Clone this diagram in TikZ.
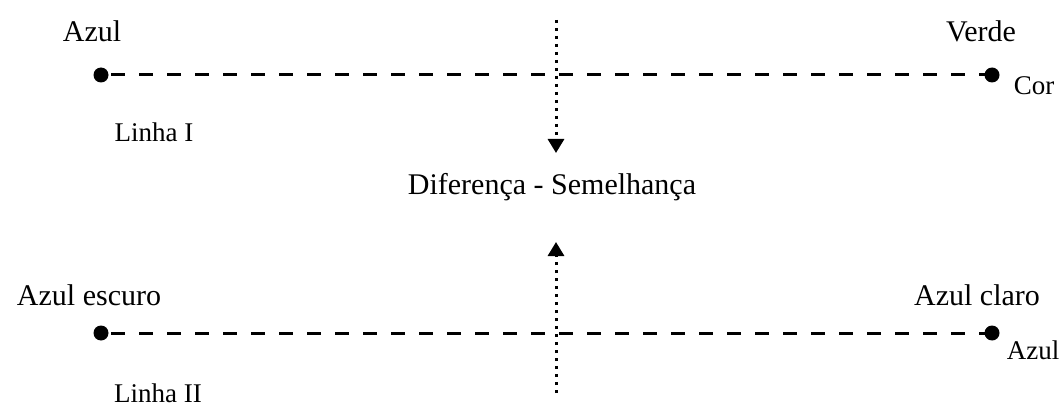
\documentclass[tikz,border=0pt]{standalone}
\usepackage{fontspec}
\setmainfont{Liberation Serif}
\usetikzlibrary{arrows.meta}
\tikzset{
  dotnode/.style={circle,fill=black,inner sep=0pt,minimum size=15pt},
  biglabel/.style={inner sep=0pt,anchor=base,font=\fontsize{30}{36}\selectfont},
  smalllabel/.style={inner sep=0pt,anchor=base,font=\fontsize{27}{32}\selectfont},
  dashline/.style={line width=3pt,dash pattern=on 14pt off 14pt,dash phase=-10pt},
  dotline/.style={line width=3pt,dash pattern=on 3pt off 5pt},
  dotarrow/.style={dotline,-{Triangle[width=16pt,length=14pt]}}
}
\begin{document}
\begin{tikzpicture}[x=1pt,y=-1pt]
\useasboundingbox (0,0) rectangle (1062,406);
% dots
\node[dotnode] (a1) at (101,75) {};
\node[dotnode] (b1) at (992,75) {};
\node[dotnode] (a2) at (101,333) {};
\node[dotnode] (b2) at (992,333) {};
% labels
\node[biglabel] (lazul) at (92,42) {Azul};
\node[biglabel] (lverde) at (981,42) {Verde};
\node[smalllabel] (lcor) at (1034,95) {Cor};
\node[smalllabel] (llinha1) at (154,142) {Linha I};
\node[biglabel] (ldif) at (552,195) {Diferença - Semelhança};
\node[biglabel] (lescuro) at (89,305) {Azul escuro};
\node[biglabel] (lclaro) at (977,305) {Azul claro};
\node[smalllabel] (lazul2) at (1033,359) {Azul};
\node[smalllabel] (llinha2) at (158,402) {Linha II};
% dashed lines
\draw[dashline] (a1.center) -- (b1.center);
\draw[dashline] (a2.center) -- (b2.center);
% vertical dotted arrows
\coordinate (vtop) at (556,20);
\coordinate (vtoptip) at (556,153);
\coordinate (vbot) at (556,393);
\coordinate (vbottip) at (556,242);
\draw[dotarrow] (vtop) -- (vtoptip);
\draw[dotarrow] (vbot) -- (vbottip);
\end{tikzpicture}
\end{document}
